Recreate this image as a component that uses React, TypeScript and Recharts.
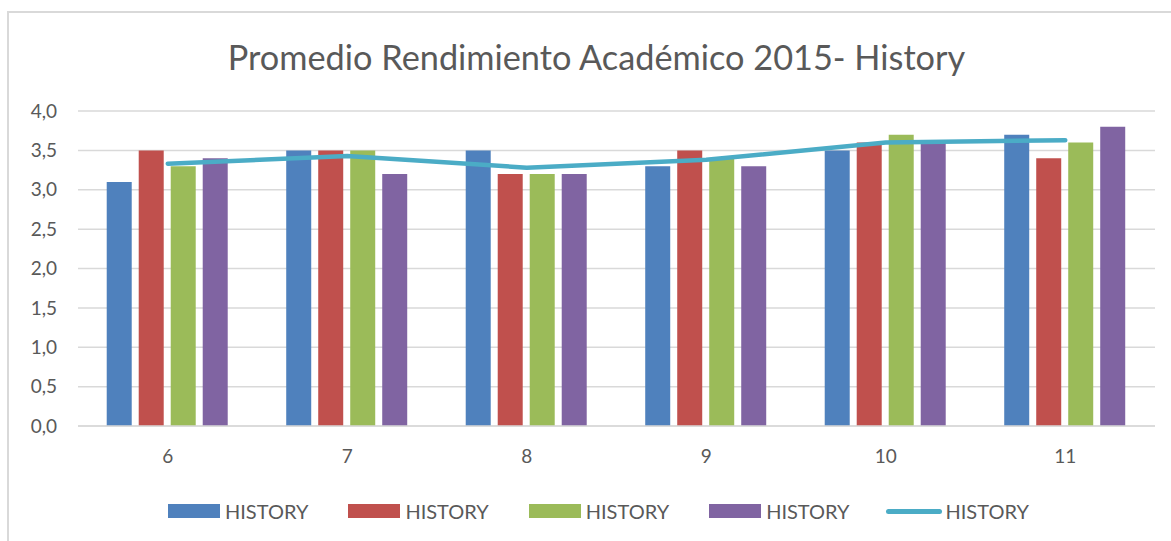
import React from "react";
import {
  ComposedChart,
  Bar,
  Line,
  XAxis,
  YAxis,
  CartesianGrid,
  Legend,
} from "recharts";

const grades = ["6", "7", "8", "9", "10", "11"];
const seriesA = [3.1, 3.5, 3.5, 3.3, 3.5, 3.7];
const seriesB = [3.5, 3.5, 3.2, 3.5, 3.6, 3.4];
const seriesC = [3.3, 3.5, 3.2, 3.4, 3.7, 3.6];
const seriesD = [3.4, 3.2, 3.2, 3.3, 3.6, 3.8];
const average = [3.33, 3.43, 3.28, 3.38, 3.6, 3.63];
const yTicks = [0, 0.5, 1, 1.5, 2, 2.5, 3, 3.5, 4];
const seriesName = "HISTORY";
const title = "Promedio Rendimiento Académico 2015- History";

const data = grades.map((g, i) => ({
  grade: g,
  a: seriesA[i],
  b: seriesB[i],
  c: seriesC[i],
  d: seriesD[i],
  avg: average[i],
}));

const FONT = "Lato, 'Open Sans', sans-serif";
const TEXT = "#595959";
const GRID = "#d9d9d9";

const legendItems = [
  { color: "#4F81BD", type: "rect" },
  { color: "#C0504D", type: "rect" },
  { color: "#9BBB59", type: "rect" },
  { color: "#8064A2", type: "rect" },
  { color: "#4BACC6", type: "line" },
];

const LegendContent = () => (
  <div
    style={{
      display: "flex",
      alignItems: "center",
      justifyContent: "flex-start",
      paddingLeft: 168,
      fontFamily: FONT,
      fontSize: 20,
      color: TEXT,
    }}
  >
    {legendItems.map((it, i) => (
      <div
        key={i}
        style={{
          display: "flex",
          alignItems: "center",
          marginRight: i === 3 ? 36 : 40,
        }}
      >
        {it.type === "rect" ? (
          <div style={{ width: 52, height: 14, background: it.color, marginRight: 5 }} />
        ) : (
          <div
            style={{
              width: 56,
              height: 5,
              borderRadius: 3,
              background: it.color,
              marginRight: 4,
            }}
          />
        )}
        <span>{seriesName}</span>
      </div>
    ))}
  </div>
);

export default function App() {
  return (
    <div
      style={{
        position: "absolute",
        left: 0,
        top: 0,
        width: 1171,
        height: 541,
        overflow: "hidden",
        background: "#fff",
      }}
    >
      <div
        style={{
          position: "absolute",
          left: 7,
          top: 11,
          width: 1300,
          height: 700,
          borderTop: `2px solid ${GRID}`,
          borderLeft: `2px solid ${GRID}`,
        }}
      />
      <div
        style={{
          position: "absolute",
          left: 0,
          top: 40,
          width: 1193,
          textAlign: "center",
          fontFamily: FONT,
          fontSize: 34.3,
          lineHeight: "34px",
          color: TEXT,
          whiteSpace: "nowrap",
        }}
      >
        {title}
      </div>
      <div style={{ position: "absolute", left: 0, top: 0 }}>
        <ComposedChart
          width={1171}
          height={541}
          data={data}
          margin={{ top: 111, right: 16, left: 0, bottom: 55 }}
          barCategoryGap="16%"
          barGap={7}
        >
          <CartesianGrid vertical={false} stroke={GRID} strokeWidth={1.5} />
          <XAxis
            dataKey="grade"
            height={60}
            tickLine={false}
            axisLine={{ stroke: GRID, strokeWidth: 1.5 }}
            tickSize={0}
            tickMargin={24}
            tick={{ fill: TEXT, fontSize: 19, fontFamily: FONT }}
          />
          <YAxis
            width={78}
            domain={[0, 4]}
            ticks={yTicks}
            interval={0}
            axisLine={false}
            tickLine={false}
            tickSize={0}
            tickMargin={21}
            tickFormatter={(v: number) => v.toFixed(1).replace(".", ",")}
            tick={{ fill: TEXT, fontSize: 19, fontFamily: FONT }}
          />
          <Bar dataKey="a" name={seriesName} fill="#4F81BD" isAnimationActive={false} />
          <Bar dataKey="b" name={seriesName} fill="#C0504D" isAnimationActive={false} />
          <Bar dataKey="c" name={seriesName} fill="#9BBB59" isAnimationActive={false} />
          <Bar dataKey="d" name={seriesName} fill="#8064A2" isAnimationActive={false} />
          <Line
            dataKey="avg"
            name={seriesName}
            type="linear"
            stroke="#4BACC6"
            strokeWidth={4.5}
            strokeLinecap="round"
            strokeLinejoin="round"
            dot={false}
            activeDot={false}
            isAnimationActive={false}
          />
          <Legend
            layout="horizontal"
            verticalAlign="middle"
            align="center"
            content={<LegendContent />}
            wrapperStyle={{ top: 499, left: 0, width: 1171 }}
          />
        </ComposedChart>
      </div>
    </div>
  );
}
